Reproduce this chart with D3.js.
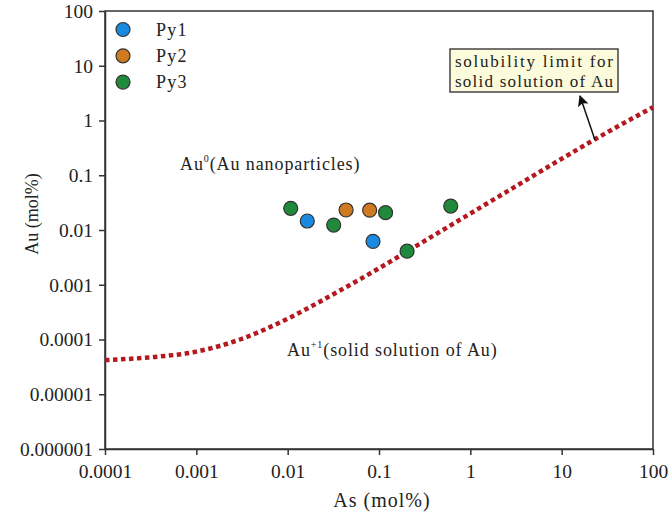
<!DOCTYPE html>
<html><head><meta charset="utf-8">
<script src="https://cdn.jsdelivr.net/npm/d3@7/dist/d3.min.js"></script>
<style>body{margin:0;background:#fff}svg{display:block}svg text{font-family:"Liberation Serif","Times New Roman",serif;fill:#222}</style>
</head><body><svg id="c" width="672" height="517"></svg>
<script>
const xTicks = [0.0001, 0.001, 0.01, 0.1, 1, 10, 100];
const xTickLabels = ["0.0001", "0.001", "0.01", "0.1", "1", "10", "100"];
const yTicks = [0.000001, 0.00001, 0.0001, 0.001, 0.01, 0.1, 1, 10, 100];
const yTickLabels = ["0.000001", "0.00001", "0.0001", "0.001", "0.01", "0.1", "1", "10", "100"];
const seriesNames = ["Py1", "Py2", "Py3"];
const seriesColors = ["#1a8ae0", "#cf7a20", "#1f8a3c"];
const py1As = [0.0164, 0.086];
const py1Au = [0.0146, 0.0062];
const py2As = [0.0436, 0.079];
const py2Au = [0.0232, 0.0230];
const py3As = [0.0108, 0.0319, 0.118, 0.203, 0.61];
const py3Au = [0.0249, 0.0123, 0.0207, 0.0041, 0.0274];
const limitAs = [0.0001, 0.0003, 0.001, 0.003, 0.01, 0.03, 0.1, 0.3, 1, 3, 10, 30, 100];
const limitAu = [0.000042, 0.000047, 0.00006, 0.0001, 0.00024, 0.00064, 0.002, 0.006, 0.02, 0.06, 0.2, 0.58, 1.75];

const svg = d3.select("#c");
const L = 105, R = 653, T = 11, B = 449;
const x = d3.scaleLog().domain([0.0001, 100]).range([L, R]);
const y = d3.scaleLog().domain([0.000001, 100]).range([B, T]);
const axisColor = "#333";

// frame
svg.append("rect").attr("x", L).attr("y", T).attr("width", R - L).attr("height", B - T)
  .attr("fill", "none").attr("stroke", axisColor).attr("stroke-width", 1.5);

const xAxis = d3.axisBottom(x).tickValues(xTicks).tickFormat((d, i) => xTickLabels[i]).tickSize(6).tickSizeOuter(0);
const gx = svg.append("g").attr("transform", `translate(0,${B})`).call(xAxis);
gx.attr("font-family", null);
gx.select(".domain").attr("stroke", axisColor).attr("stroke-width", 1.5);
gx.selectAll(".tick line").attr("stroke", axisColor).attr("stroke-width", 1.5);
gx.selectAll(".tick text").attr("font-size", 19.5).attr("fill", "#222").attr("y", 15);

const yAxis = d3.axisLeft(y).tickValues(yTicks).tickFormat((d, i) => yTickLabels[i]).tickSize(6).tickSizeOuter(0);
const gy = svg.append("g").attr("transform", `translate(${L},0)`).call(yAxis);
gy.attr("font-family", null);
gy.select(".domain").attr("stroke", axisColor).attr("stroke-width", 1.5);
gy.selectAll(".tick line").attr("stroke", axisColor).attr("stroke-width", 1.5);
gy.selectAll(".tick text").attr("font-size", 19.5).attr("fill", "#222").attr("x", -12);

// axis titles
svg.append("text").attr("x", 382).attr("y", 507).attr("text-anchor", "middle")
  .attr("font-size", 20).attr("letter-spacing", 1).text("As (mol%)");
svg.append("text").attr("transform", `translate(38,214) rotate(-90)`).attr("text-anchor", "middle")
  .attr("font-size", 18).text("Au (mol%)");

// solubility limit curve
const lineData = limitAs.map((a, i) => [a, limitAu[i]]);
const line = d3.line().x(d => x(d[0])).y(d => y(d[1])).curve(d3.curveMonotoneX);
svg.append("path").attr("d", line(lineData)).attr("fill", "none")
  .attr("stroke", "#b5181e").attr("stroke-width", 4.5).attr("stroke-dasharray", "4.5,3.5");

// annotation box + arrow
svg.append("defs").append("marker").attr("id", "ah").attr("viewBox", "0 0 10 10")
  .attr("refX", 9).attr("refY", 5).attr("markerWidth", 13).attr("markerHeight", 11)
  .attr("markerUnits", "userSpaceOnUse").attr("orient", "auto")
  .append("path").attr("d", "M0,0 L10,5 L0,10 L2,5 z").attr("fill", "#111");
svg.append("line").attr("x1", 595).attr("y1", 140).attr("x2", 580).attr("y2", 96)
  .attr("stroke", "#111").attr("stroke-width", 1.5).attr("marker-end", "url(#ah)");
svg.append("rect").attr("x", 450).attr("y", 49).attr("width", 168).attr("height", 43)
  .attr("fill", "#fcfbdc").attr("stroke", "#444").attr("stroke-width", 1.5);
svg.append("text").attr("x", 455).attr("y", 67).attr("font-size", 17)
  .attr("textLength", 158).attr("lengthAdjust", "spacing").text("solubility limit for");
svg.append("text").attr("x", 455).attr("y", 87).attr("font-size", 17)
  .attr("textLength", 158).attr("lengthAdjust", "spacing").text("solid solution of Au");

// region labels
const t1 = svg.append("text").attr("x", 180).attr("y", 170).attr("font-size", 18).attr("letter-spacing", 0.9);
t1.append("tspan").text("Au");
t1.append("tspan").attr("font-size", 10).attr("dy", -8).text("0");
t1.append("tspan").attr("dy", 8).text("(Au nanoparticles)");
const t2 = svg.append("text").attr("x", 287).attr("y", 356).attr("font-size", 18).attr("letter-spacing", 0.9);
t2.append("tspan").text("Au");
t2.append("tspan").attr("font-size", 10).attr("dy", -8).text("+1");
t2.append("tspan").attr("dy", 8).text("(solid solution of Au)");

// points
const series = [[py1As, py1Au], [py2As, py2Au], [py3As, py3Au]];
series.forEach((s, k) => {
  svg.append("g").selectAll("circle").data(s[0].map((a, i) => [a, s[1][i]])).join("circle")
    .attr("cx", d => x(d[0])).attr("cy", d => y(d[1])).attr("r", 7)
    .attr("fill", seriesColors[k]).attr("stroke", "#333").attr("stroke-width", 1.2);
});

// legend
const lg = svg.append("g");
seriesNames.forEach((n, i) => {
  const cy = 29.5 + i * 26.3;
  lg.append("circle").attr("cx", 123).attr("cy", cy).attr("r", 7)
    .attr("fill", seriesColors[i]).attr("stroke", "#333").attr("stroke-width", 1.2);
  lg.append("text").attr("x", 156).attr("y", cy + 6).attr("font-size", 18)
    .attr("letter-spacing", 1.2).text(n);
});
</script></body></html>
